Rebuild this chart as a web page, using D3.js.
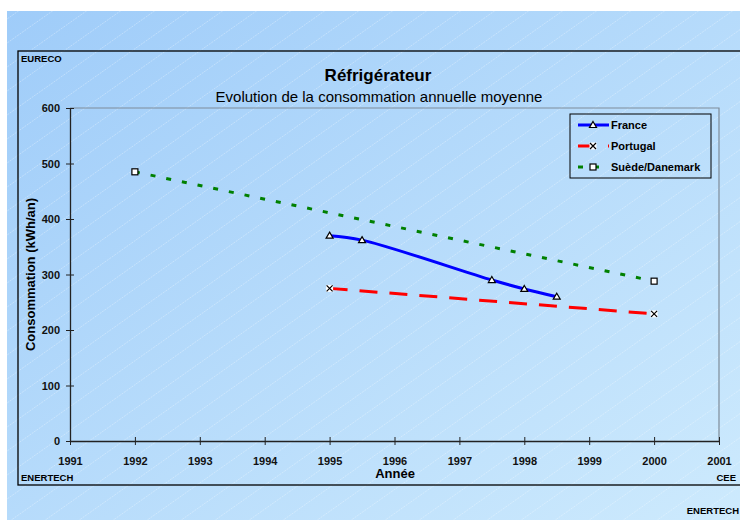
<!DOCTYPE html>
<html>
<head>
<meta charset="utf-8">
<script src="https://cdn.jsdelivr.net/npm/d3@7"></script>
<style>
  body { margin: 0; background: #fff; }
  text { font-family: "Liberation Sans", Arial, sans-serif; }
</style>
</head>
<body>
<div id="chart"></div>
<script>
// data
const years = [1991, 1992, 1993, 1994, 1995, 1996, 1997, 1998, 1999, 2000, 2001];
const yTicks = [0, 100, 200, 300, 400, 500, 600];
const franceYears = [1995, 1995.5, 1997.5, 1998, 1998.5];
const franceValues = [370, 362, 290, 274, 260];
const portugalYears = [1995, 2000];
const portugalValues = [275, 229];
const suedeYears = [1992, 2000];
const suedeValues = [485, 288];

const width = 740, height = 520;
const margin = { left: 70, right: 21, top: 108, bottom: 79 };

const svg = d3.select("#chart").append("svg")
    .attr("width", width)
    .attr("height", height);

const defs = svg.append("defs");
const grad = defs.append("linearGradient")
    .attr("id", "bg")
    .attr("x1", "0%").attr("y1", "0%")
    .attr("x2", "100%").attr("y2", "100%");
grad.append("stop").attr("offset", "0%").attr("stop-color", "#9fccf9");
grad.append("stop").attr("offset", "100%").attr("stop-color", "#cdeafd");

// faint diagonal hatching
const pat = defs.append("pattern")
    .attr("id", "hatch")
    .attr("patternUnits", "userSpaceOnUse")
    .attr("width", 34).attr("height", 24);
pat.append("line")
    .attr("x1", 0).attr("y1", 24).attr("x2", 34).attr("y2", 0)
    .attr("stroke", "#ffffff")
    .attr("stroke-opacity", 0.5)
    .attr("stroke-width", 0.6)
    .attr("stroke-dasharray", "2,1");

svg.append("rect")
    .attr("x", 7).attr("y", 11)
    .attr("width", width - 7).attr("height", height - 11)
    .attr("fill", "url(#bg)");
svg.append("rect")
    .attr("x", 7).attr("y", 11)
    .attr("width", width - 7).attr("height", height - 11)
    .attr("fill", "url(#hatch)");

// chart frame
svg.append("rect")
    .attr("x", 18).attr("y", 51)
    .attr("width", 740).attr("height", 434)
    .attr("fill", "none")
    .attr("stroke", "#000")
    .attr("stroke-width", 1.3);

const x = d3.scaleLinear()
    .domain([1991, 2001])
    .range([margin.left, width - margin.right]);
const y = d3.scaleLinear()
    .domain([0, 600])
    .range([height - margin.bottom, margin.top]);

// plot border (top / right in grey)
svg.append("path")
    .attr("d", `M${x(1991)},${y(600)}H${x(2001)}V${y(0)}`)
    .attr("fill", "none")
    .attr("stroke", "#7f8c99")
    .attr("stroke-width", 1.2);

// axes
const xAxis = svg.append("g")
    .attr("transform", `translate(0,${y(0)})`)
    .call(d3.axisBottom(x).tickValues(years).tickFormat(d3.format("d"))
        .tickSizeInner(4).tickSizeOuter(0).tickPadding(12));
xAxis.select(".domain").attr("stroke", "#222").attr("stroke-width", 1.3);
xAxis.selectAll(".tick line")
    .attr("y1", -4).attr("y2", 4).attr("stroke", "#222");
xAxis.selectAll("text")
    .attr("font-size", 11).attr("font-weight", "bold").attr("fill", "#111");

const yAxis = svg.append("g")
    .attr("transform", `translate(${x(1991)},0)`)
    .call(d3.axisLeft(y).tickValues(yTicks).tickSizeInner(4).tickSizeOuter(0).tickPadding(6));
yAxis.select(".domain").attr("stroke", "#222").attr("stroke-width", 1.3);
yAxis.selectAll(".tick line")
    .attr("x1", -4).attr("x2", 4).attr("stroke", "#222");
yAxis.selectAll("text")
    .attr("font-size", 11).attr("font-weight", "bold").attr("fill", "#111");

// titles & labels
svg.append("text")
    .attr("x", 378).attr("y", 81)
    .attr("text-anchor", "middle")
    .attr("font-size", 17).attr("font-weight", "bold")
    .text("Réfrigérateur");
svg.append("text")
    .attr("x", 379).attr("y", 102)
    .attr("text-anchor", "middle")
    .attr("font-size", 15)
    .text("Evolution de la consommation annuelle moyenne");
svg.append("text")
    .attr("x", 21).attr("y", 62)
    .attr("font-size", 9.5).attr("font-weight", "bold")
    .text("EURECO");
svg.append("text")
    .attr("x", 21).attr("y", 481)
    .attr("font-size", 9.5).attr("font-weight", "bold")
    .text("ENERTECH");
svg.append("text")
    .attr("x", 736).attr("y", 481)
    .attr("text-anchor", "end")
    .attr("font-size", 9.5).attr("font-weight", "bold")
    .text("CEE");
svg.append("text")
    .attr("x", 739).attr("y", 514)
    .attr("text-anchor", "end")
    .attr("font-size", 9.5).attr("font-weight", "bold")
    .text("ENERTECH");
svg.append("text")
    .attr("x", 395).attr("y", 478)
    .attr("text-anchor", "middle")
    .attr("font-size", 13).attr("font-weight", "bold")
    .text("Année");
svg.append("text")
    .attr("transform", `translate(35,${(y(0) + y(600)) / 2}) rotate(-90)`)
    .attr("text-anchor", "middle")
    .attr("font-size", 13).attr("font-weight", "bold")
    .text("Consommation (kWh/an)");

// series
const series = [
    { name: "France", xs: franceYears, ys: franceValues, color: "#0000ff", dash: null, marker: "triangle", curve: d3.curveCatmullRom },
    { name: "Portugal", xs: portugalYears, ys: portugalValues, color: "#ff0000", dash: "18,12", marker: "cross", curve: d3.curveLinear },
    { name: "Suède/Danemark", xs: suedeYears, ys: suedeValues, color: "#008000", dash: "5,11", marker: "square", curve: d3.curveLinear }
];

function drawMarker(g, type, cx, cy) {
    if (type === "triangle") {
        g.append("path")
            .attr("d", `M${cx},${cy - 3.5}L${cx + 3.5},${cy + 2.5}L${cx - 3.5},${cy + 2.5}Z`)
            .attr("fill", "#fff").attr("stroke", "#000").attr("stroke-width", 1.2);
    } else if (type === "cross") {
        g.append("rect")
            .attr("x", cx - 3.5).attr("y", cy - 3.5).attr("width", 7).attr("height", 7)
            .attr("fill", "#fff");
        g.append("path")
            .attr("d", `M${cx - 3},${cy - 3}L${cx + 3},${cy + 3}M${cx + 3},${cy - 3}L${cx - 3},${cy + 3}`)
            .attr("stroke", "#000").attr("stroke-width", 1.2);
    } else {
        g.append("rect")
            .attr("x", cx - 3).attr("y", cy - 3).attr("width", 6).attr("height", 6)
            .attr("fill", "#fff").attr("stroke", "#000").attr("stroke-width", 1.2);
    }
}

series.forEach(s => {
    const pts = s.xs.map((d, i) => [x(d), y(s.ys[i])]);
    const line = d3.line().curve(s.curve);
    svg.append("path")
        .attr("d", line(pts))
        .attr("fill", "none")
        .attr("stroke", s.color)
        .attr("stroke-width", 3)
        .attr("stroke-dasharray", s.dash);
    const mg = svg.append("g");
    pts.forEach(p => drawMarker(mg, s.marker, p[0], p[1]));
});

// legend
const legend = svg.append("g");
legend.append("rect")
    .attr("x", 570).attr("y", 114)
    .attr("width", 141).attr("height", 64)
    .attr("fill", "none").attr("stroke", "#000").attr("stroke-width", 1);
series.forEach((s, i) => {
    const ly = 125 + i * 21;
    legend.append("line")
        .attr("x1", 578).attr("x2", 609)
        .attr("y1", ly).attr("y2", ly)
        .attr("stroke", s.color).attr("stroke-width", 3)
        .attr("stroke-dasharray", s.dash);
    drawMarker(legend, s.marker, 593, ly);
    legend.append("text")
        .attr("x", 611).attr("y", ly + 4)
        .attr("font-size", 11).attr("font-weight", "bold")
        .text(s.name);
});
</script>
</body>
</html>
